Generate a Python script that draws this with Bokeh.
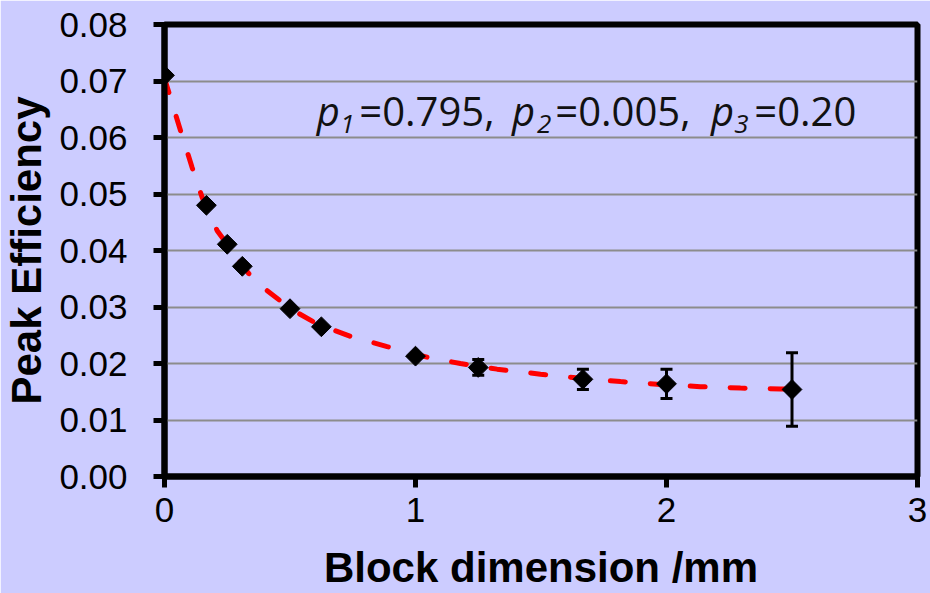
import numpy as np
from bokeh.plotting import figure
from bokeh.models import ColumnDataSource, Whisker, TeeHead, NumeralTickFormatter, FixedTicker, Range1d
from bokeh.core.properties import value
from bokeh.embed import file_html
from bokeh.resources import INLINE

# ---- data ----
block_dim = [0.0, 0.167, 0.25, 0.31, 0.5, 0.625, 1.0, 1.25, 1.667, 2.0, 2.5]
peak_eff = [0.0710, 0.0480, 0.0411, 0.0372, 0.0297, 0.0265, 0.0213, 0.0193, 0.0172, 0.0164, 0.0154]
eff_err = [0, 0, 0, 0, 0, 0, 0, 0.0014, 0.0018, 0.0026, 0.0065]

fit_x = [0.0, 0.064, 0.110, 0.150, 0.210, 0.336, 0.409, 0.502, 0.608, 0.741, 0.887,
         1.047, 1.179, 1.325, 1.498, 1.657, 1.817, 1.976, 2.135, 2.295, 2.454, 2.5]
fit_y = [0.0705, 0.0612, 0.0547, 0.0494, 0.0435, 0.0359, 0.0329, 0.0297, 0.0270, 0.0248, 0.0230,
         0.0211, 0.0200, 0.0190, 0.0181, 0.0174, 0.0168, 0.0163, 0.0159, 0.01565, 0.0155, 0.01545]

x_ticks = [0, 1, 2, 3]
y_ticks = [0.0, 0.01, 0.02, 0.03, 0.04, 0.05, 0.06, 0.07, 0.08]

x_label = "Block dimension /mm"
y_label = "Peak Efficiency"

# annotation pieces: p_1=0.795, p_2=0.005, p_3=0.20
ann_it_text = ["p", "1", "p", "2", "p", "3"]
ann_it_size = ["40px", "26px", "40px", "26px", "40px", "26px"]
ann_it_x = [0.607, 0.700, 1.384, 1.484, 2.177, 2.270]
ann_it_y = [0.0647, 0.0624, 0.0647, 0.0624, 0.0647, 0.0624]
ann_rm_text = ["=0.795,", "=0.005,", "=0.20"]
ann_rm_x = [0.776, 1.557, 2.350]
ann_rm_y = [0.0647, 0.0647, 0.0647]

BG = "#CCCCFF"

p = figure(width=930, height=593,
           x_range=Range1d(0, 3), y_range=Range1d(0, 0.08),
           output_backend="svg", toolbar_location=None,
           min_border_left=164, min_border_right=13, min_border_top=24, min_border_bottom=117,
           background_fill_color=BG, border_fill_color=BG)

p.outline_line_color = "black"
p.outline_line_width = 6

p.xgrid.visible = False
p.ygrid.grid_line_color = "#8c8c8c"
p.ygrid.grid_line_width = 2

p.xaxis.ticker = FixedTicker(ticks=x_ticks)
p.yaxis.ticker = FixedTicker(ticks=y_ticks)
p.yaxis.formatter = NumeralTickFormatter(format="0.00")

for ax in (p.xaxis[0], p.yaxis[0]):
    ax.axis_line_color = "black"
    ax.axis_line_width = 6
    ax.major_tick_line_color = "black"
    ax.major_tick_line_width = 5
    ax.major_tick_out = 11
    ax.major_tick_in = 0
    ax.minor_tick_line_color = None
    ax.major_label_text_font = "Liberation Sans"
    ax.major_label_text_font_size = "35px"
    ax.major_label_text_color = "black"
    ax.axis_label_text_font = "Liberation Sans"
    ax.axis_label_text_font_size = "42px"
    ax.axis_label_text_font_style = "bold"
    ax.axis_label_text_color = "black"

p.xaxis.axis_label = x_label
p.yaxis.axis_label = y_label
p.xaxis.major_label_standoff = 10
p.yaxis.major_label_standoff = 26
p.xaxis.axis_label_standoff = 19
p.yaxis.axis_label_standoff = 6

# fitted curve
p.line(fit_x, fit_y, line_color="#FF0000", line_width=5, line_dash="15 25", line_cap="round")

# error bars
lower = [v - e for v, e in zip(peak_eff, eff_err)]
upper = [v + e for v, e in zip(peak_eff, eff_err)]
keep = [i for i, e in enumerate(eff_err) if e > 0]
err_src = ColumnDataSource(dict(x=[block_dim[i] for i in keep],
                                lower=[lower[i] for i in keep],
                                upper=[upper[i] for i in keep]))
w = Whisker(source=err_src, base="x", lower="lower", upper="upper",
            line_color="black", line_width=3,
            upper_head=TeeHead(size=12, line_color="black", line_width=3),
            lower_head=TeeHead(size=12, line_color="black", line_width=3))
p.add_layout(w)

# markers
p.scatter(block_dim, peak_eff, marker="square", size=14, angle=np.pi / 4,
          fill_color="black", line_color="black")

# annotation text
it_src = ColumnDataSource(dict(x=ann_it_x, y=ann_it_y, t=ann_it_text, s=ann_it_size))
p.text(x="x", y="y", text="t", text_font_size="s", source=it_src,
       text_font=value("Open Sans"), text_font_style="italic", text_color="#111111",
       text_align="left", text_baseline="alphabetic")
rm_src = ColumnDataSource(dict(x=ann_rm_x, y=ann_rm_y, t=ann_rm_text))
p.text(x="x", y="y", text="t", source=rm_src,
       text_font=value("Open Sans"), text_font_size="40px", text_color="#111111",
       text_align="left", text_baseline="alphabetic")

html = file_html(p, INLINE)
html = html.replace("<body", '<body style="background-color:%s"' % BG, 1)
open("out.html", "w").write(html)
